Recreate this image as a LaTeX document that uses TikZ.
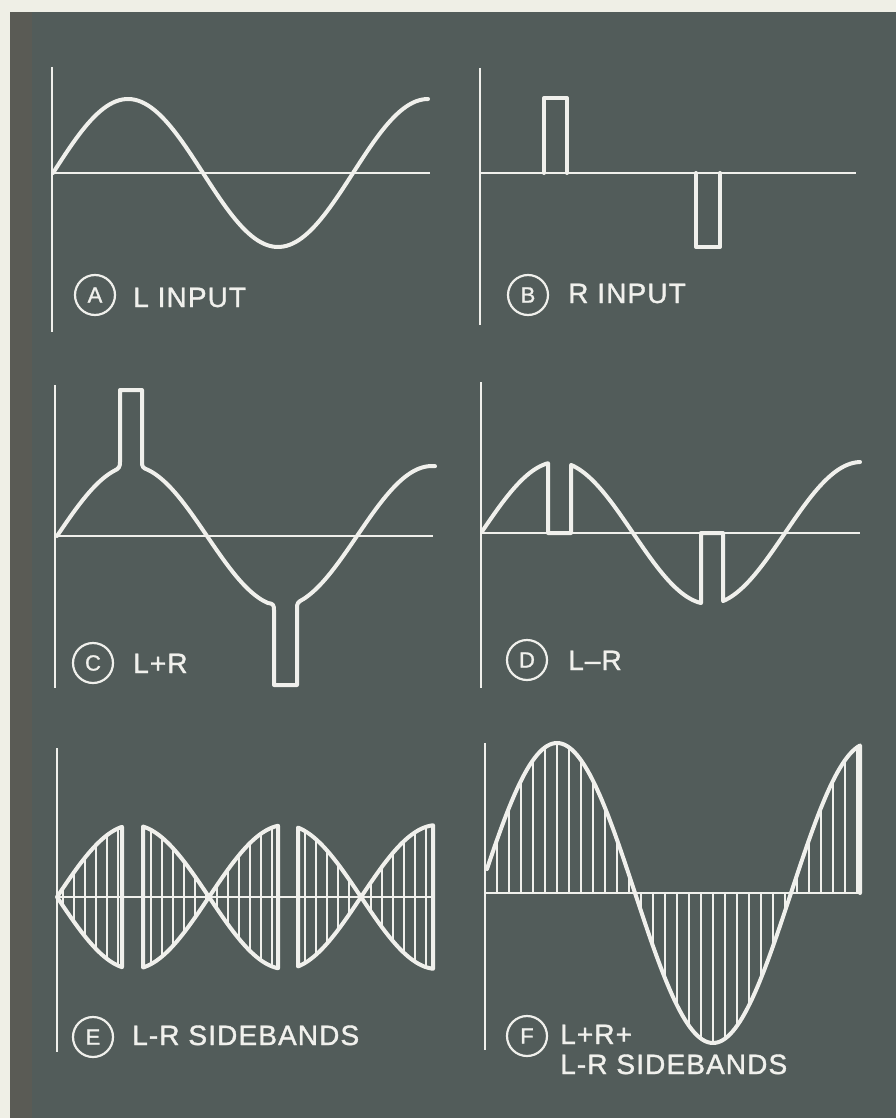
\documentclass[tikz,border=0pt]{standalone}
\usepackage{fontspec}
\setmainfont{Liberation Sans}
\newfontfamily\lett[LetterSpace=4,FakeBold=1.3]{Liberation Sans}
\definecolor{bg}{HTML}{EFEFE6}
\definecolor{panel}{HTML}{525C5A}
\definecolor{strip}{HTML}{5A5B55}
\definecolor{chalk}{HTML}{F0F0EC}
\begin{document}
\begin{tikzpicture}[x=1pt,y=-1pt,
  axis/.style={chalk, line width=2pt},
  wave/.style={chalk, line width=4pt, line join=round, line cap=round},
  hatch/.style={chalk, line width=2pt},
  tag/.style={circle, draw=chalk, line width=2.2pt, minimum size=40pt, inner sep=0pt, text=chalk, font=\lett\fontsize{22}{22}\selectfont},
  lbl/.style={anchor=base west, text=chalk, inner sep=0pt, font=\lett\fontsize{28}{30}\selectfont}]
\useasboundingbox (0,0) rectangle (896,1118);
\fill[bg] (0,0) rectangle (896,1118);
\fill[panel] (10,12) rectangle (896,1118);
\fill[strip] (10,12) rectangle (32,1118);

% ---------- A : L input ----------
\draw[axis] (52,67) -- (52,332);
\draw[axis] (52,173) -- (430,173);
\draw[wave] plot[domain=53:428,samples=120] (\x,{173-74*sin((\x-53)*1.2)});
\node[tag] (ta) at (95,295) {A};
\node[lbl] (la) at (133,307) {L INPUT};

% ---------- B : R input ----------
\draw[axis] (480,68) -- (480,325);
\draw[axis] (480,173) -- (856,173);
\draw[wave] (544,173) -- (544,98) -- (567,98) -- (567,173);
\draw[wave] (696,173) -- (696,247) -- (720,247) -- (720,173);
\node[tag] (tb) at (528,295) {B};
\node[lbl] (lb) at (568,303) {R INPUT};

% ---------- C : L+R ----------
\draw[axis] (55,385) -- (55,688);
\draw[axis] (55,536) -- (433,536);
\draw[wave] plot[domain=57:114,samples=40] (\x,{536-70*sin((\x-57)*1.2)})
  .. controls (119,468.5) and (120,467) .. (120,462) -- (120,390) -- (142,390) -- (142,462)
  .. controls (142,467) and (143,468) .. (148,469.9)
  -- plot[domain=148:268,samples=70] (\x,{536-70*sin((\x-57)*1.2)})
  .. controls (273,603.5) and (274,605) .. (274,610) -- (274,685) -- (297,685) -- (297,608)
  .. controls (297,603) and (298,602) .. (303,599.3)
  -- plot[domain=303:435,samples=70] (\x,{536-70*sin((\x-57)*1.2)});
\node[tag] (tc) at (93,663) {C};
\node[lbl] (lc) at (133,673) {L+R};

% ---------- D : L-R ----------
\draw[axis] (481,382) -- (481,688);
\draw[axis] (481,533) -- (860,533);
\draw[wave] plot[domain=482:548,samples=40] (\x,{533-71*sin((\x-481)*1.18421)})
  -- (548,533) -- (571,533)
  -- plot[domain=571:701,samples=70] (\x,{533-71*sin((\x-481)*1.18421)})
  -- (701,533) -- (723,533)
  -- plot[domain=723:860,samples=70] (\x,{533-71*sin((\x-481)*1.18421)});
\node[tag] (td) at (527,660) {D};
\node[lbl] (ld) at (568,670) {L–R};

% ---------- E : L-R sidebands ----------
\draw[axis] (57,748) -- (57,1052);
\draw[axis] (57,897) -- (433,897);
\foreach \x in {63,74,...,118,151,162,...,272,305,316,...,426}
  \draw[hatch] (\x,{897-72*abs(sin((\x-57)*1.18421))}) -- (\x,{897+72*abs(sin((\x-57)*1.18421))});
\draw[wave] plot[domain=57:122,samples=40] (\x,{897-72*sin((\x-57)*1.18421)})
  -- plot[domain=122:57,samples=40] (\x,{897+72*sin((\x-57)*1.18421)});
\draw[wave] plot[domain=143:278,samples=70] (\x,{897-72*sin((\x-57)*1.18421)})
  -- plot[domain=278:143,samples=70] (\x,{897+72*sin((\x-57)*1.18421)}) -- cycle;
\draw[wave] plot[domain=298:433,samples=70] (\x,{897-72*sin((\x-57)*1.18421)})
  -- plot[domain=433:298,samples=70] (\x,{897+72*sin((\x-57)*1.18421)}) -- cycle;
\node[tag] (te) at (93,1037) {E};
\node[lbl] (le) at (132,1045) {L-R SIDEBANDS};

% ---------- F : L+R+ L-R sidebands ----------
\draw[axis] (485,743) -- (485,1050);
\draw[axis] (485,893) -- (861,893);
\foreach \x in {497,509,...,857}
  \draw[hatch] (\x,893) -- (\x,{893-150*sin((\x-479)*1.15385)});
\draw[wave] plot[domain=487:860,samples=150] (\x,{893-150*sin((\x-479)*1.15385)}) -- (860,893);
\node[tag] (tf) at (527,1036) {F};
\node[lbl] (lf1) at (560,1044) {L+R+};
\node[lbl] (lf2) at (560,1074) {L-R SIDEBANDS};
\end{tikzpicture}
\end{document}
